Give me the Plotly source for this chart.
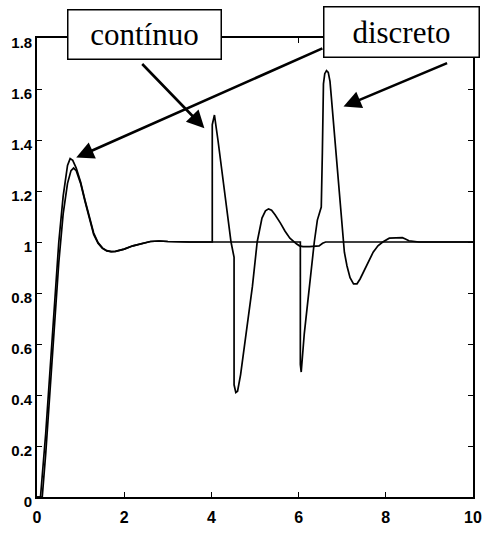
import plotly.graph_objects as go

# Continuous-time controller response (step at t=0, output pulse disturbance at t=4)
t_cont = [0, 0.12, 0.2, 0.3, 0.4, 0.5, 0.6, 0.7, 0.78, 0.84, 0.9, 1.0, 1.1, 1.2,
          1.3, 1.4, 1.5, 1.6, 1.7, 1.8, 2.0, 2.2, 2.4, 2.6, 2.8, 3.0, 3.5,
          4.02, 4.02, 4.07, 4.15, 4.22, 4.30, 4.37, 4.45, 4.52, 4.52, 4.56,
          4.60, 4.67, 4.75, 4.82, 4.94, 5.05, 5.16, 5.24, 5.31, 5.38, 5.46,
          5.58, 5.69, 5.80, 5.87, 5.95, 6.02, 6.10, 6.25, 6.40, 6.47, 6.55,
          6.62, 7.0, 8.0, 9.0, 10.0]
y_cont = [0, 0, 0.17, 0.42, 0.68, 0.92, 1.11, 1.23, 1.28, 1.29, 1.28, 1.23,
          1.16, 1.09, 1.03, 0.995, 0.975, 0.965, 0.962, 0.963, 0.972, 0.985,
          0.995, 1.002, 1.004, 1.002, 1.0,
          1.0, 1.46, 1.498, 1.40, 1.31, 1.21, 1.12, 1.0, 0.94, 0.44, 0.41,
          0.415, 0.48, 0.58, 0.67, 0.825, 1.0, 1.094, 1.122, 1.13, 1.125,
          1.107, 1.075, 1.042, 1.015, 1.004, 0.993, 0.985, 0.982, 0.982,
          0.983, 0.985, 0.995, 1.0, 1.0, 1.0, 1.0, 1.0]

# Discrete-time controller response (step at t=0, output pulse disturbance at t=6)
t_disc = [0, 0.08, 0.2, 0.3, 0.4, 0.5, 0.6, 0.7, 0.76, 0.82, 0.9, 1.0, 1.1,
          1.2, 1.3, 1.4, 1.5, 1.6, 1.7, 1.8, 2.0, 2.2, 2.4, 2.6, 2.8, 3.0,
          3.5, 6.04, 6.04, 6.06, 6.13, 6.25, 6.36, 6.43, 6.52, 6.545, 6.57,
          6.60, 6.64, 6.68, 6.72, 6.75, 6.80, 6.85, 6.90, 6.95, 7.00, 7.05,
          7.11, 7.18, 7.26, 7.34, 7.41, 7.48, 7.60, 7.71, 7.82, 7.93, 8.08,
          8.23, 8.38, 8.45, 8.53, 8.76, 9.0, 10.0]
y_disc = [0, 0, 0.25, 0.5, 0.76, 1.0, 1.18, 1.30, 1.327, 1.32, 1.29, 1.235,
          1.165, 1.095, 1.035, 0.998, 0.977, 0.966, 0.962, 0.963, 0.972,
          0.985, 0.995, 1.002, 1.004, 1.002, 1.0,
          1.0, 0.52, 0.49, 0.64, 0.83, 1.0, 1.086, 1.137, 1.35, 1.62, 1.66,
          1.672, 1.665, 1.63, 1.57, 1.47, 1.36, 1.25, 1.14, 1.04, 0.96,
          0.906, 0.86, 0.836, 0.836, 0.855, 0.88, 0.92, 0.96, 0.985, 1.0,
          1.015, 1.017, 1.017, 1.012, 1.005, 1.0, 1.0, 1.0]

x_ticks = [0, 2, 4, 6, 8, 10]
y_ticks = [0, 0.2, 0.4, 0.6, 0.8, 1.0, 1.2, 1.4, 1.6, 1.8]
y_tick_text = ["0", "0.2", "0.4", "0.6", "0.8", "1", "1.2", "1.4", "1.6", "1.8"]

labels = ["contínuo", "discreto"]

fig = go.Figure()
fig.add_trace(go.Scatter(x=t_cont, y=y_cont, mode="lines",
                         line=dict(color="black", width=1.7), name=labels[0]))
fig.add_trace(go.Scatter(x=t_disc, y=y_disc, mode="lines",
                         line=dict(color="black", width=1.7), name=labels[1]))

y_tick_font = dict(family="Liberation Sans, Arial, sans-serif", size=15,
                   color="black", weight="bold")
x_tick_font = dict(family="Liberation Sans, Arial, sans-serif", size=16,
                   color="black", weight="bold")

fig.update_xaxes(range=[0, 10], tickvals=x_ticks, ticks="inside", ticklen=5,
                 tickwidth=1, tickcolor="black", showline=True, linecolor="black",
                 linewidth=1.6, mirror="ticks", showgrid=False, zeroline=False,
                 tickfont=x_tick_font, ticklabelstandoff=5)
fig.update_yaxes(range=[0, 1.8], tickvals=y_ticks, ticktext=y_tick_text,
                 ticks="inside", ticklen=5, tickwidth=1, tickcolor="black",
                 showline=True, linecolor="black", linewidth=1.6,
                 mirror="ticks", showgrid=False, zeroline=False,
                 tickfont=y_tick_font, ticklabelshift=5, ticklabelstandoff=0)

label_font = dict(family="Liberation Serif, Times New Roman, serif", size=31,
                  color="black")

# Label boxes above the frame
fig.add_annotation(text=labels[0], xref="paper", yref="paper", x=0.246,
                   y=1.0075, xanchor="center", yanchor="middle",
                   showarrow=False, font=label_font, bgcolor="white",
                   bordercolor="black", borderwidth=1.5, borderpad=1,
                   width=150, height=46)
fig.add_annotation(text=labels[1], xref="paper", yref="paper", x=0.837,
                   y=1.0128, xanchor="center", yanchor="middle",
                   showarrow=False, font=label_font, bgcolor="white",
                   bordercolor="black", borderwidth=1.5, borderpad=1,
                   width=152, height=47)

# Pointer arrows: (tail x, tail y, head x, head y) in data units
arrows = [
    (2.38, 1.704, 3.84, 1.446),
    (6.58, 1.762, 0.90, 1.331),
    (9.44, 1.704, 7.03, 1.531),
]
for ax_, ay_, x_, y_ in arrows:
    fig.add_annotation(text="", x=x_, y=y_, xref="x", yref="y",
                       ax=ax_, ay=ay_, axref="x", ayref="y", showarrow=True,
                       arrowhead=2, arrowsize=1.35, arrowwidth=2.6,
                       arrowcolor="black", standoff=0)

fig.update_layout(width=489, height=533,
                  margin=dict(l=37, r=7, t=38, b=27),
                  paper_bgcolor="white", plot_bgcolor="white",
                  showlegend=False)

fig.write_html("out.html")
